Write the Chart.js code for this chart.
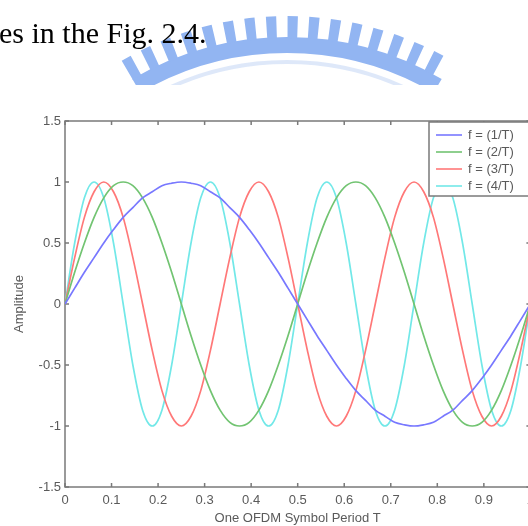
<!DOCTYPE html>
<html>
<head>
<meta charset="utf-8">
<script src="https://cdn.jsdelivr.net/npm/chart.js@4/dist/chart.umd.min.js"></script>
<style>
  html, body { margin: 0; padding: 0; background: #fff; overflow: hidden; width: 528px; height: 526px; }
  #wave { position: absolute; left: 0; top: 0; }
  #caption {
    position: absolute; left: -1px; top: 18px;
    font-family: "Liberation Serif", "Times New Roman", serif;
    font-size: 30px; line-height: 30px; color: #000; white-space: nowrap;
  }
</style>
</head>
<body>
<canvas id="wave" width="540" height="526"></canvas>
<div id="caption">es in the Fig. 2.4.</div>
<script>
// sample instants over one symbol period (T = 1), step T/48
const t = [0, .0208, .0417, .0625, .0833, .1042, .125, .1458, .1667, .1875, .2083, .2292,
  .25, .2708, .2917, .3125, .3333, .3542, .375, .3958, .4167, .4375, .4583, .4792,
  .5, .5208, .5417, .5625, .5833, .6042, .625, .6458, .6667, .6875, .7083, .7292,
  .75, .7708, .7917, .8125, .8333, .8542, .875, .8958, .9167, .9375, .9583, .9792, 1];

// subcarrier amplitudes at those instants
const sub1 = [0, .13, .26, .38, .5, .61, .71, .79, .87, .92, .97, .99,
  1, .99, .97, .92, .87, .79, .71, .61, .5, .38, .26, .13,
  0, -.13, -.26, -.38, -.5, -.61, -.71, -.79, -.87, -.92, -.97, -.99,
  -1, -.99, -.97, -.92, -.87, -.79, -.71, -.61, -.5, -.38, -.26, -.13, 0];
const sub2 = [0, .26, .5, .71, .87, .97, 1, .97, .87, .71, .5, .26,
  0, -.26, -.5, -.71, -.87, -.97, -1, -.97, -.87, -.71, -.5, -.26,
  0, .26, .5, .71, .87, .97, 1, .97, .87, .71, .5, .26,
  0, -.26, -.5, -.71, -.87, -.97, -1, -.97, -.87, -.71, -.5, -.26, 0];
const sub3 = [0, .38, .71, .92, 1, .92, .71, .38, 0, -.38, -.71, -.92, -1, -.92, -.71, -.38,
  0, .38, .71, .92, 1, .92, .71, .38, 0, -.38, -.71, -.92, -1, -.92, -.71, -.38,
  0, .38, .71, .92, 1, .92, .71, .38, 0, -.38, -.71, -.92, -1, -.92, -.71, -.38, 0];
const sub4 = [0, .5, .87, 1, .87, .5, 0, -.5, -.87, -1, -.87, -.5,
  0, .5, .87, 1, .87, .5, 0, -.5, -.87, -1, -.87, -.5,
  0, .5, .87, 1, .87, .5, 0, -.5, -.87, -1, -.87, -.5,
  0, .5, .87, 1, .87, .5, 0, -.5, -.87, -1, -.87, -.5, 0];

const names = ['f = (1/T)', 'f = (2/T)', 'f = (3/T)', 'f = (4/T)'];
const colours = ['#7878ff', '#72c472', '#ff7878', '#72e8e8'];
const xTickLabels = ['0', '0.1', '0.2', '0.3', '0.4', '0.5', '0.6', '0.7', '0.8', '0.9', '1'];
const yTickLabels = ['-1.5', '-1', '-0.5', '0', '0.5', '1', '1.5'];

const axisFont = { family: 'Arial, "Liberation Sans", sans-serif', size: 13 };
const axisGrey = '#5a5a5a';

const toPoints = ys => ys.map((y, i) => ({ x: t[i], y: y }));

// university seal arc behind the caption line
const seal = {
  id: 'seal',
  beforeDraw(chart) {
    const c = chart.ctx;
    const cx = 287, cy = 343;
    const a0 = Math.PI * 1.5 - 0.53, a1 = Math.PI * 1.5 + 0.53;
    c.save();
    c.beginPath();
    c.rect(0, 0, 528, 85);
    c.clip();
    c.strokeStyle = 'rgba(218,230,248,0.9)';
    c.lineWidth = 4;
    c.beginPath();
    c.arc(cx, cy, 281, a0, a1);
    c.stroke();
    c.strokeStyle = 'rgb(146,181,242)';
    c.lineWidth = 16;
    c.beginPath();
    c.arc(cx, cy, 298, a0, a1);
    c.stroke();
    // teeth
    c.lineWidth = 22;
    c.setLineDash([10, 11]);
    c.beginPath();
    c.arc(cx, cy, 316, a0, a1);
    c.stroke();
    c.restore();
  }
};

// matlab style box with inward ticks
const frame = {
  id: 'frame',
  beforeDatasetsDraw(chart) {
    const c = chart.ctx, a = chart.chartArea;
    const xs = chart.scales.x, ys = chart.scales.y;
    c.save();
    c.strokeStyle = '#7a7a7a';
    c.lineWidth = 1.5;
    c.strokeRect(a.left, a.top, a.right - a.left, a.bottom - a.top);
    c.beginPath();
    xs.ticks.forEach(tk => {
      const px = xs.getPixelForValue(tk.value);
      c.moveTo(px, a.bottom); c.lineTo(px, a.bottom - 4);
      c.moveTo(px, a.top); c.lineTo(px, a.top + 4);
    });
    ys.ticks.forEach(tk => {
      const py = ys.getPixelForValue(tk.value);
      c.moveTo(a.left, py); c.lineTo(a.left + 4, py);
      c.moveTo(a.right, py); c.lineTo(a.right - 4, py);
    });
    c.stroke();
    c.restore();
  }
};

// boxed legend in the upper right corner of the axes
const legendBox = {
  id: 'legendBox',
  afterDatasetsDraw(chart) {
    const c = chart.ctx;
    const x0 = 429, y0 = 122, w = 102, h = 74;
    c.save();
    c.fillStyle = '#fff';
    c.fillRect(x0, y0, w, h);
    c.strokeStyle = '#7a7a7a';
    c.lineWidth = 1.5;
    c.strokeRect(x0, y0, w, h);
    c.font = '13px Arial, "Liberation Sans", sans-serif';
    c.textBaseline = 'middle';
    chart.data.datasets.forEach((ds, i) => {
      const ry = y0 + 13 + i * 17;
      c.strokeStyle = ds.borderColor;
      c.lineWidth = 1.6;
      c.beginPath();
      c.moveTo(x0 + 7, ry); c.lineTo(x0 + 33, ry);
      c.stroke();
      c.fillStyle = axisGrey;
      c.fillText(ds.label, x0 + 39, ry);
    });
    c.restore();
  }
};

new Chart(document.getElementById('wave').getContext('2d'), {
  type: 'line',
  data: {
    datasets: [sub1, sub2, sub3, sub4].map((ys, i) => ({
      label: names[i],
      data: toPoints(ys),
      borderColor: colours[i],
      borderWidth: 1.7,
      pointRadius: 0,
      fill: false,
      cubicInterpolationMode: 'monotone'
    }))
  },
  options: {
    responsive: false,
    animation: false,
    devicePixelRatio: 1,
    layout: { padding: { top: 121, right: 8, left: 0, bottom: 0 } },
    plugins: { legend: { display: false }, tooltip: { enabled: false } },
    scales: {
      x: {
        type: 'linear', min: 0, max: 1,
        afterFit: s => { s.height = 39; },
        grid: { display: false, drawTicks: false },
        border: { display: false },
        ticks: {
          stepSize: 0.1, padding: 6, color: axisGrey, font: axisFont, maxRotation: 0,
          callback: (v, i) => xTickLabels[i]
        },
        title: { display: true, text: 'One OFDM Symbol Period T', color: axisGrey, font: axisFont, padding: 0 }
      },
      y: {
        type: 'linear', min: -1.5, max: 1.5,
        afterFit: s => { s.width = 65; },
        grid: { display: false, drawTicks: false },
        border: { display: false },
        ticks: {
          stepSize: 0.5, padding: 4, color: axisGrey, font: axisFont,
          callback: (v, i) => yTickLabels[i]
        },
        title: { display: true, text: 'Amplitude', color: axisGrey, font: axisFont, padding: { top: 12, bottom: 0 } }
      }
    }
  },
  plugins: [seal, frame, legendBox]
});
</script>
</body>
</html>
